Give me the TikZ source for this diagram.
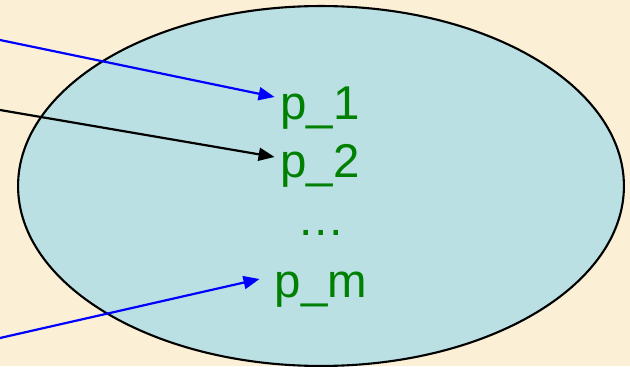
\documentclass[tikz,border=0pt]{standalone}
\usepackage{fontspec}
\setmainfont{Liberation Sans}
\usepackage{xcolor}
\usetikzlibrary{arrows.meta,shapes.geometric}

\definecolor{paper}{RGB}{251,239,214}
\definecolor{setfill}{RGB}{186,224,227}
\definecolor{pgreen}{RGB}{0,128,0}

\begin{document}
\begin{tikzpicture}[x=0.02cm, y=0.02cm,
  setbox/.style={ellipse, draw=black, line width=1.2pt, fill=setfill, inner sep=0pt,
                 minimum width=12.12cm, minimum height=7.2cm},
  param/.style={text=pgreen, inner sep=0pt, font=\fontsize{27}{32}\selectfont,
                text height=0.72em, text depth=0.21em},
  arr/.style={-{Triangle[length=3.2mm,width=2.6mm]}, line width=1.25pt},
]

% --- page ---
\fill[paper] (0,0) rectangle (630,366);
\useasboundingbox (0,0) rectangle (630,366);

% --- the set ---
\node[setbox] (pool) at (321,180) {};

% --- parameters ---
\node[param] (p1)   at (320,251) {p\_1};
\node[param] (p2)   at (320,193) {p\_2};
\node[param] (dots) at (321,135) {…};
\node[param] (pm)   at (321,73)  {p\_m};

% --- incoming ---
\coordinate (in1) at (0,326);
\coordinate (in2) at (0,256);
\coordinate (in3) at (0,28);

\draw[arr, blue]  (in1) -- ([shift={(-5.5,18)}]p1.west);
\draw[arr, black] (in2) -- ([shift={(-5.5,16)}]p2.west);
\draw[arr, blue]  (in3) -- ([shift={(-15,14)}]pm.west);

\end{tikzpicture}
\end{document}
